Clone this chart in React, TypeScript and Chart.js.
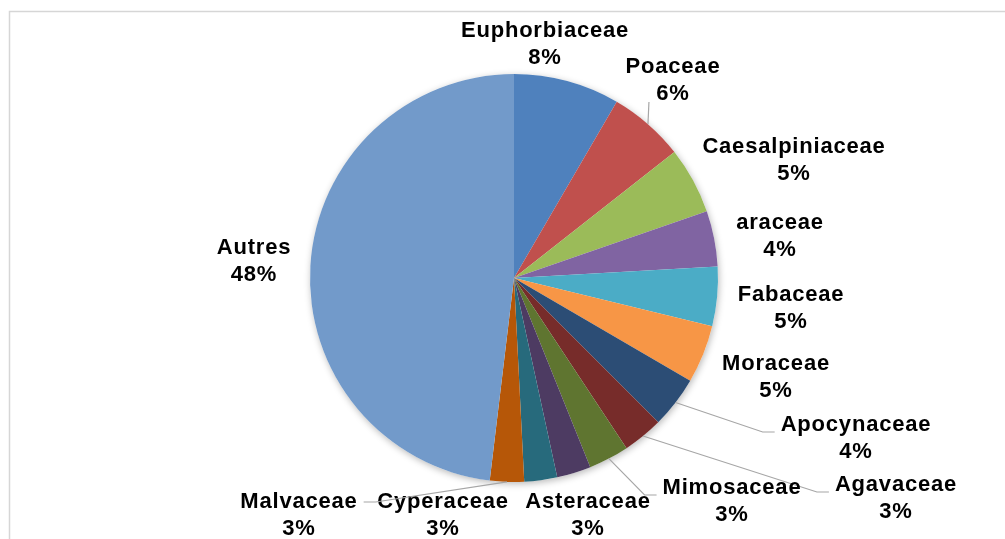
import { useEffect, useRef } from "react";
import { Chart, registerables } from "chart.js";

Chart.register(...registerables);

// Plant families and their share (%) of the recorded species
const families = [
  "Euphorbiaceae",
  "Poaceae",
  "Caesalpiniaceae",
  "araceae",
  "Fabaceae",
  "Moraceae",
  "Apocynaceae",
  "Agavaceae",
  "Mimosaceae",
  "Asteraceae",
  "Cyperaceae",
  "Malvaceae",
  "Autres",
];
const shares = [8.4, 6.0, 5.3, 4.4, 4.7, 4.6, 4.1, 3.2, 3.2, 2.7, 2.6, 2.7, 48.1];

const sliceColors = [
  "#4F81BD",
  "#C0504D",
  "#9BBB59",
  "#8064A2",
  "#4BACC6",
  "#F79646",
  "#2C4D75",
  "#772C2A",
  "#5F7530",
  "#4D3B62",
  "#276A7C",
  "#B65708",
  "#729ACA",
];

// Label placement: middle of the name line, relative to the pie centre
const labelOffsets: [number, number][] = [
  [31, -247],
  [159, -211],
  [280, -131],
  [266, -55],
  [277, 17],
  [262, 86],
  [342, 147],
  [382, 207],
  [218, 210],
  [74, 224],
  [-71, 224],
  [-215, 224],
  [-260, -30],
];
// Leader line style per label and the vertical attach offset of its end
const leaderKinds = ["none", "below", "none", "none", "none", "none", "left", "left", "left", "none", "none", "right", "none"];
const leaderAttachDy = [0, 0, 0, 0, 0, 0, 7, 7, 7, 0, 0, 0, 0];

const LABEL_FONT = 'bold 22px "Liberation Sans", Arial, sans-serif';
const LINE_GAP = 27;

const framePlugin = {
  id: "frame",
  beforeDraw(chart: Chart) {
    const ctx = chart.ctx;
    ctx.save();
    ctx.strokeStyle = "#d6d6d6";
    ctx.lineWidth = 1.5;
    ctx.beginPath();
    ctx.moveTo(9.5, chart.height);
    ctx.lineTo(9.5, 11.5);
    ctx.lineTo(chart.width, 11.5);
    ctx.stroke();
    ctx.restore();
  },
};

const shadowPlugin = {
  id: "pieShadow",
  beforeDatasetsDraw(chart: Chart) {
    const arc: any = chart.getDatasetMeta(0).data[0];
    if (!arc) return;
    const ctx = chart.ctx;
    ctx.save();
    ctx.shadowColor = "rgba(0,0,0,0.28)";
    ctx.shadowBlur = 7;
    ctx.shadowOffsetX = 1;
    ctx.shadowOffsetY = 2;
    ctx.fillStyle = "#ffffff";
    ctx.beginPath();
    ctx.arc(arc.x, arc.y, arc.outerRadius, 0, Math.PI * 2);
    ctx.fill();
    ctx.restore();
  },
};

const labelPlugin = {
  id: "sliceLabels",
  afterDatasetsDraw(chart: Chart) {
    const meta = chart.getDatasetMeta(0);
    const ctx = chart.ctx;
    const values = chart.data.datasets[0].data as number[];
    const total = values.reduce((a, b) => a + b, 0);
    ctx.save();
    ctx.font = LABEL_FONT;
    (ctx as any).letterSpacing = "0.8px";
    ctx.textAlign = "center";
    ctx.textBaseline = "middle";
    meta.data.forEach((el: any, i: number) => {
      const cx = el.x + labelOffsets[i][0];
      const cy = el.y + labelOffsets[i][1];
      const name = String(chart.data.labels![i]);
      const pct = Math.round((values[i] / total) * 100) + "%";
      const nameW = ctx.measureText(name).width;
      const pctW = ctx.measureText(pct).width;

      const mid = (el.startAngle + el.endAngle) / 2;
      const ax = el.x + Math.cos(mid) * el.outerRadius;
      const ay = el.y + Math.sin(mid) * el.outerRadius;
      const kind = leaderKinds[i];
      if (kind !== "none") {
        ctx.save();
        ctx.strokeStyle = "#a6a6a6";
        ctx.lineWidth = 1.2;
        ctx.beginPath();
        ctx.moveTo(ax, ay);
        if (kind === "below") {
          const by = cy + LINE_GAP + 8;
          ctx.lineTo(ax + 1, by);
        } else if (kind === "left") {
          const ly = cy + leaderAttachDy[i];
          const ex = cx - Math.max(nameW, pctW) / 2 - 6;
          ctx.lineTo(ex - 12, ly);
          ctx.lineTo(ex, ly);
        } else {
          const ly = cy + leaderAttachDy[i];
          const ex = cx + Math.max(nameW, pctW) / 2 + 6;
          ctx.lineTo(ex + 12, ly);
          ctx.lineTo(ex, ly);
        }
        ctx.stroke();
        ctx.restore();
      }

      ctx.fillStyle = "#000000";
      ctx.fillText(name, cx, cy);
      ctx.fillText(pct, cx, cy + LINE_GAP);
    });
    ctx.restore();
  },
};

export default function App() {
  const canvasRef = useRef<HTMLCanvasElement | null>(null);

  useEffect(() => {
    if (!canvasRef.current) return;
    const chart = new Chart(canvasRef.current, {
      type: "pie",
      data: {
        labels: families,
        datasets: [
          {
            data: shares,
            backgroundColor: sliceColors,
            borderWidth: 0,
            hoverOffset: 0,
          },
        ],
      },
      options: {
        responsive: false,
        animation: false,
        events: [],
        layout: { padding: { left: 310, right: 287, top: 74, bottom: 57 } },
        plugins: {
          legend: { display: false },
          tooltip: { enabled: false },
        },
      },
      plugins: [framePlugin, shadowPlugin, labelPlugin],
    });
    return () => chart.destroy();
  }, []);

  return (
    <div style={{ position: "absolute", left: 0, top: 0, width: 1005, height: 539, background: "#ffffff" }}>
      <canvas ref={canvasRef} width={1005} height={539} />
    </div>
  );
}
